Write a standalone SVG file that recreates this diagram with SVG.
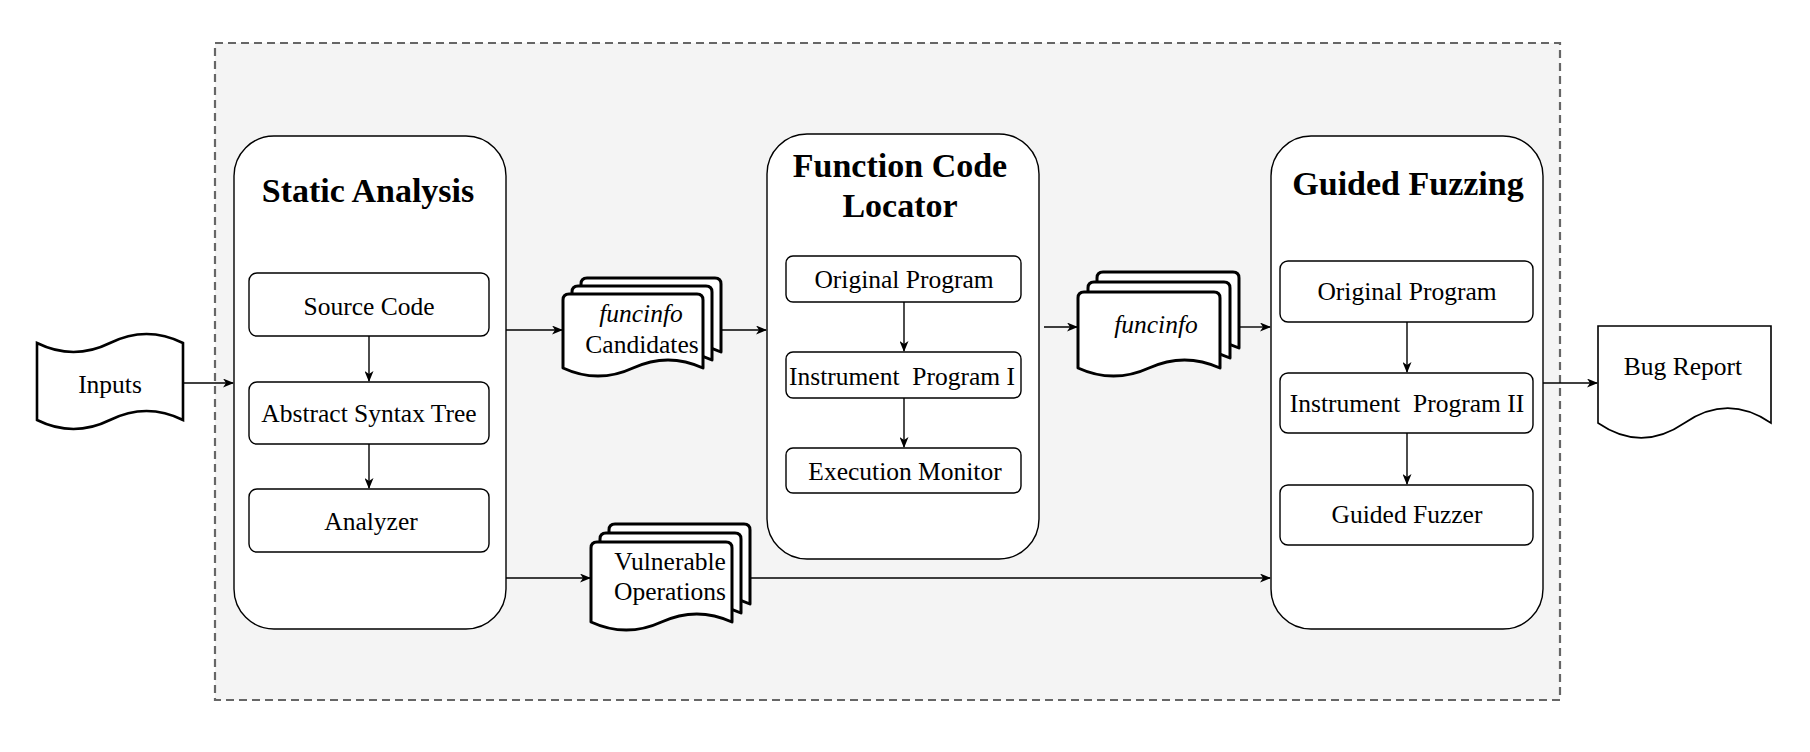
<svg xmlns="http://www.w3.org/2000/svg" width="1810" height="752" viewBox="0 0 1810 752">
<defs>
<marker id="arr" markerWidth="11" markerHeight="9" refX="10" refY="4.5" orient="auto" markerUnits="userSpaceOnUse">
<path d="M0,0 L11,4.5 L0,9 L3,4.5 Z" fill="#000"/>
</marker>
<style>
.t{font-family:"Liberation Serif","Times New Roman",serif;font-size:25.5px;fill:#000;text-anchor:middle;white-space:pre}
.it{font-style:italic}
.h{font-family:"Liberation Serif","Times New Roman",serif;font-size:34px;font-weight:bold;fill:#000;text-anchor:middle}
.big{fill:#fff;stroke:#000;stroke-width:1.4}
.sub{fill:#fff;stroke:#000;stroke-width:1.4}
.doc{fill:#fff;stroke:#000;stroke-width:3;stroke-linejoin:round}
.c{fill:none;stroke:#000;stroke-width:1.4;marker-end:url(#arr)}
</style>
</defs>
<rect width="1810" height="752" fill="#fff"/>
<g id="container">
<rect x="215" y="43" width="1345" height="657" fill="#f4f4f4" stroke="#666" stroke-width="2.2" stroke-dasharray="8,5"/>
</g>
<g id="inputs">
<path d="M37,343 Q73.5,361 110,343 Q146.5,325 183,343 L183,420 Q146.5,402 110,420 Q73.5,438 37,420 Z" fill="#fff" stroke="#000" stroke-width="2.6"/>
<text class="t" x="110" y="393">Inputs</text>
</g>
<g id="static-analysis">
<rect class="big" x="234" y="136" width="272" height="493" rx="40"/>
<text class="h" x="368" y="202">Static Analysis</text>
</g>
<g id="source-code">
<rect class="sub" x="249" y="273" width="240" height="63" rx="8"/>
<text class="t" x="369" y="315">Source Code</text>
</g>
<g id="ast">
<rect class="sub" x="249" y="382" width="240" height="62" rx="8"/>
<text class="t" x="369" y="422">Abstract Syntax Tree</text>
</g>
<g id="analyzer">
<rect class="sub" x="249" y="489" width="240" height="63" rx="8"/>
<text class="t" x="371" y="530">Analyzer</text>
</g>
<g id="candidates">
<path class="doc" d="M587,278 H715 Q721,278 721,284 V352 Q686,335.8 651,352 Q616,368.2 581,352 V284 Q581,278 587,278 Z"/>
<path class="doc" d="M578,286 H706 Q712,286 712,292 V360 Q677,343.8 642,360 Q607,376.2 572,360 V292 Q572,286 578,286 Z"/>
<path class="doc" d="M569,294 H697 Q703,294 703,300 V368 Q668,351.8 633,368 Q598,384.2 563,368 V300 Q563,294 569,294 Z"/>
<text class="t it" x="641" y="322">funcinfo</text>
<text class="t" x="642" y="353">Candidates</text>
</g>
<g id="vulnerable-operations">
<path class="doc" d="M615,524 H744 Q750,524 750,530 V604 Q714.75,587.8 679.5,604 Q644.25,620.2 609,604 V530 Q609,524 615,524 Z"/>
<path class="doc" d="M606,533 H735 Q741,533 741,539 V613 Q705.75,596.8 670.5,613 Q635.25,629.2 600,613 V539 Q600,533 606,533 Z"/>
<path class="doc" d="M597,542 H726 Q732,542 732,548 V622 Q696.75,605.8 661.5,622 Q626.25,638.2 591,622 V548 Q591,542 597,542 Z"/>
<text class="t" x="670" y="570">Vulnerable</text>
<text class="t" x="670" y="600">Operations</text>
</g>
<g id="function-code-locator">
<rect class="big" x="767" y="134" width="272" height="425" rx="40"/>
<text class="h" x="900" y="177">Function Code</text>
<text class="h" x="900" y="217">Locator</text>
</g>
<g id="fcl-original-program">
<rect class="sub" x="786" y="256" width="235" height="46" rx="7"/>
<text class="t" x="904" y="288">Original Program</text>
</g>
<g id="instrument-program-1">
<rect class="sub" x="786" y="352" width="235" height="46" rx="7"/>
<text class="t" x="902" y="385">Instrument  Program I</text>
</g>
<g id="execution-monitor">
<rect class="sub" x="786" y="448" width="235" height="45" rx="7"/>
<text class="t" x="905" y="480">Execution Monitor</text>
</g>
<g id="funcinfo">
<path class="doc" d="M1103,272 H1233 Q1239,272 1239,278 V348 Q1203.5,331.8 1168,348 Q1132.5,364.2 1097,348 V278 Q1097,272 1103,272 Z"/>
<path class="doc" d="M1094,282 H1224 Q1230,282 1230,288 V358 Q1194.5,341.8 1159,358 Q1123.5,374.2 1088,358 V288 Q1088,282 1094,282 Z"/>
<path class="doc" d="M1084,292 H1214 Q1220,292 1220,298 V368 Q1184.5,351.8 1149,368 Q1113.5,384.2 1078,368 V298 Q1078,292 1084,292 Z"/>
<text class="t it" x="1156" y="333">funcinfo</text>
</g>
<g id="guided-fuzzing">
<rect class="big" x="1271" y="136" width="272" height="493" rx="40"/>
<text class="h" x="1408" y="195">Guided Fuzzing</text>
</g>
<g id="gf-original-program">
<rect class="sub" x="1280" y="261" width="253" height="61" rx="8"/>
<text class="t" x="1407" y="300">Original Program</text>
</g>
<g id="instrument-program-2">
<rect class="sub" x="1280" y="373" width="253" height="60" rx="8"/>
<text class="t" x="1407" y="412">Instrument  Program II</text>
</g>
<g id="guided-fuzzer">
<rect class="sub" x="1280" y="485" width="253" height="60" rx="8"/>
<text class="t" x="1407" y="523">Guided Fuzzer</text>
</g>
<g id="bug-report">
<path d="M1598,326 H1771 V423 Q1727.75,393.3 1684.5,423 Q1641.25,452.7 1598,423 Z" fill="#fff" stroke="#000" stroke-width="1.6"/>
<text class="t" x="1683" y="375">Bug Report</text>
</g>
<g id="connectors">
<path class="c" d="M183,383 H233"/>
<path class="c" d="M369,336 V381"/>
<path class="c" d="M369,444 V488"/>
<path class="c" d="M506,330 H562"/>
<path class="c" d="M722,330 H766"/>
<path class="c" d="M904,302 V351"/>
<path class="c" d="M904,398 V447"/>
<path class="c" d="M1044,327 H1077"/>
<path class="c" d="M1240,327 H1270"/>
<path class="c" d="M1407,322 V372"/>
<path class="c" d="M1407,433 V484"/>
<path class="c" d="M506,578 H590"/>
<path class="c" d="M750,578 H1270"/>
<path class="c" d="M1543,383 H1597"/>
</g>
</svg>
